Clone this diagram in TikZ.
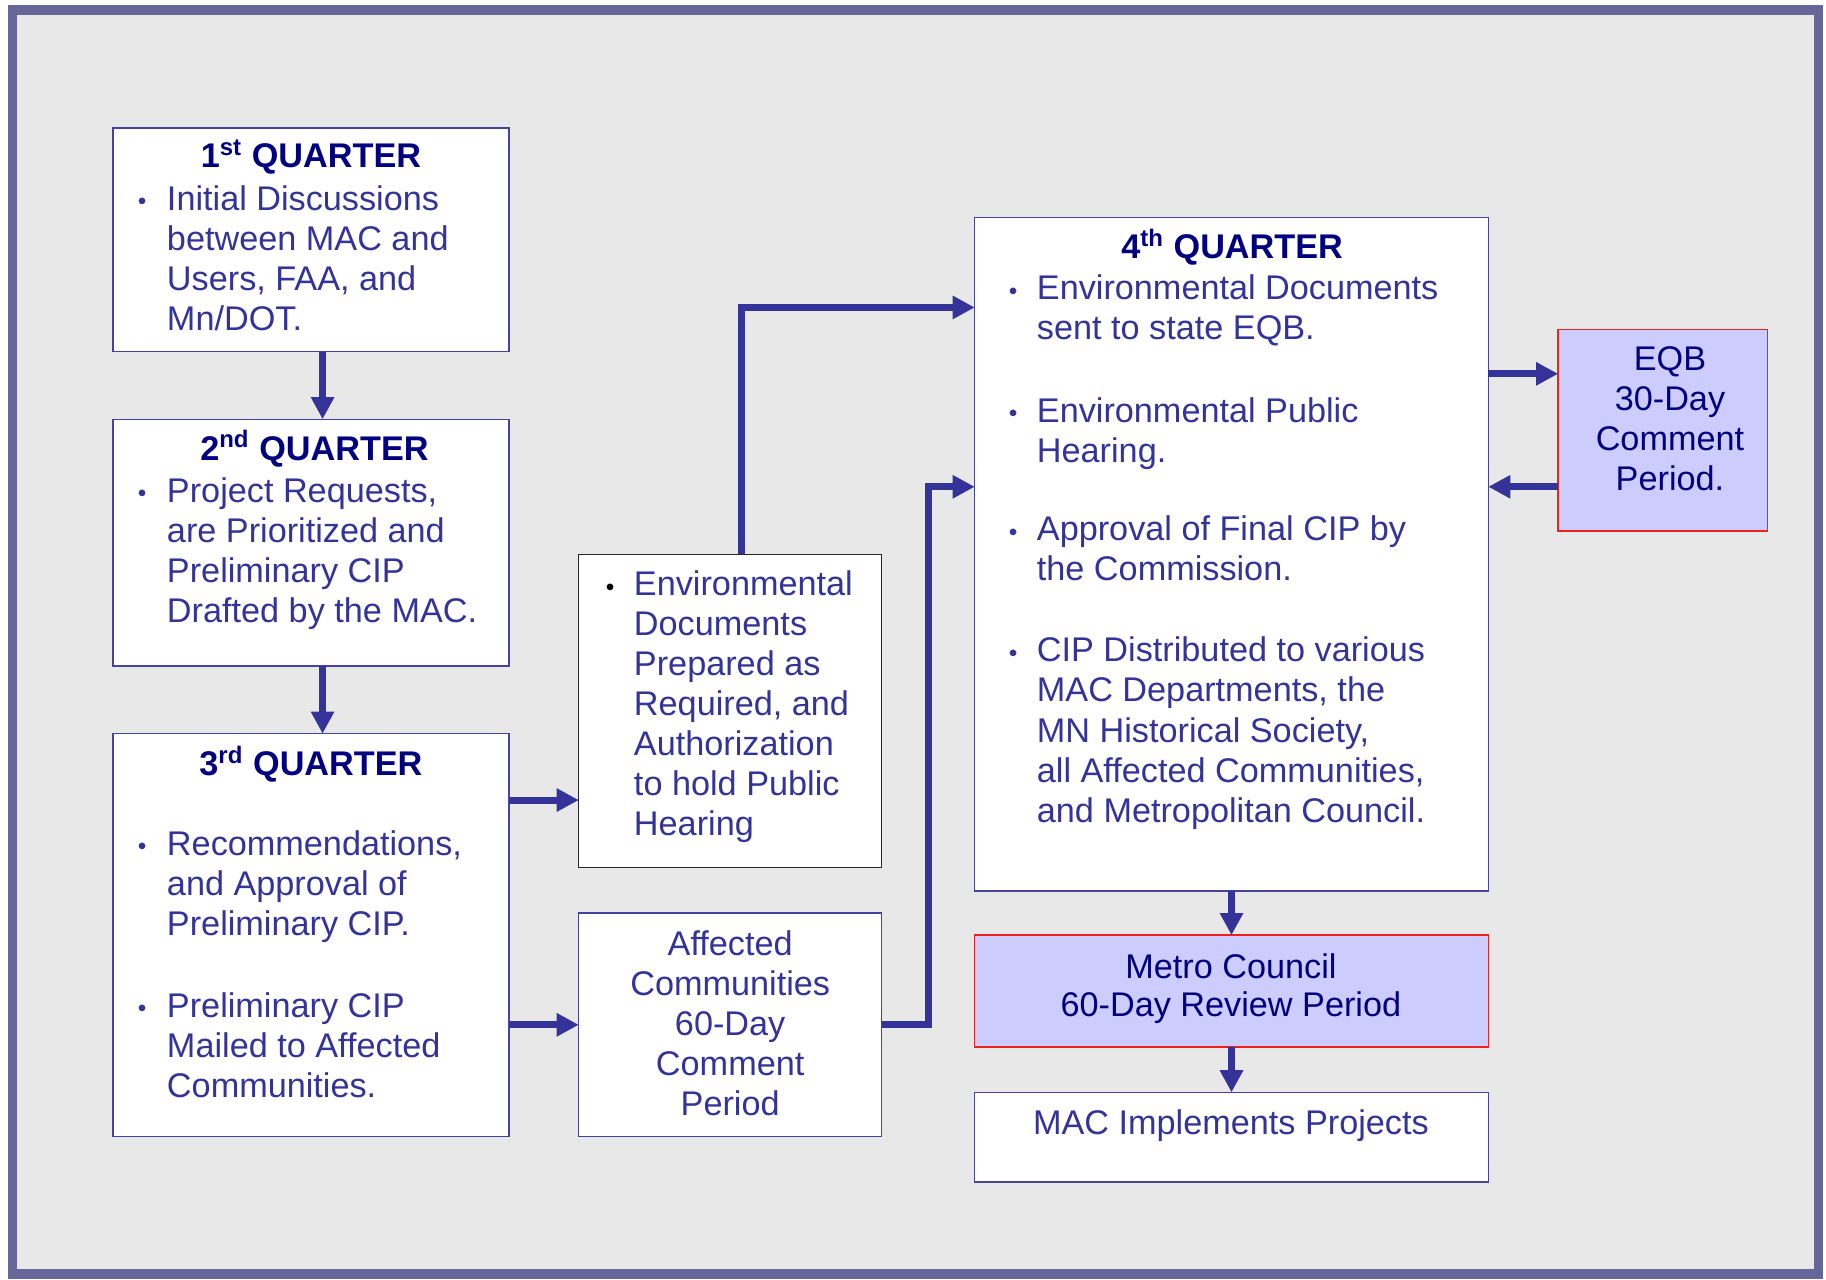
\documentclass[tikz,border=0pt]{standalone}
\usepackage{fontspec}
\setmainfont{Liberation Sans}
\usetikzlibrary{arrows.meta}
\definecolor{frameC}{HTML}{666699}
\definecolor{bgC}{HTML}{E8E8E8}
\definecolor{txtC}{HTML}{333399}
\definecolor{ttlC}{HTML}{000080}
\definecolor{boxC}{HTML}{4444A0}
\definecolor{hiC}{HTML}{CCCCFF}
\definecolor{redC}{HTML}{EE2020}
\definecolor{arrC}{HTML}{333399}
\tikzset{
  box/.style={draw=boxC, line width=0.6pt, fill=white, rectangle, inner sep=0pt, outer sep=0pt},
  envbox/.style={box, draw=black!85},
  hibox/.style={box, draw=redC, fill=hiC},
  tx/.style={text=txtC, font=\fontsize{14.7}{17.2}\selectfont, inner sep=0pt, align=left},
  txc/.style={tx, align=center},
  ttl/.style={text=ttlC, font=\bfseries\fontsize{14.7}{17.2}\selectfont, inner sep=0pt},
  bul/.style={text=txtC, font=\fontsize{10.5}{10.5}\selectfont, inner sep=0pt, anchor=base},
  arr/.style={draw=arrC, line width=3pt, -{Triangle[length=9.5pt,width=9.5pt]}},
}
\begin{document}
\begin{tikzpicture}[x=0.5pt,y=-0.5pt]
\useasboundingbox (0,0) rectangle (1568,1098.3);
\fill[white] (0,0) rectangle (1568,1098.3);
\draw[line width=4.25pt, draw=frameC, fill=bgC] (10.7,8.6) rectangle (1561.5,1094);

% boxes
\node[box, minimum width=170pt, minimum height=96pt] (q1) at (267,206) {};
\node[box, minimum width=170pt, minimum height=106pt] (q2) at (267,466) {};
\node[box, minimum width=170pt, minimum height=173pt] (q3) at (267,803) {};
\node[envbox, minimum width=130pt, minimum height=134.5pt] (env) at (627,610.5) {};
\node[box, minimum width=130pt, minimum height=96pt] (aff) at (627,880) {};
\node[box, minimum width=220.5pt, minimum height=289pt] (q4) at (1057.5,476) {};
\node[hibox, minimum width=90pt, minimum height=86.5pt] (eqb) at (1428,369.5) {};
\node[hibox, minimum width=220.5pt, minimum height=48pt] (metro) at (1057.5,851) {};
\node[box, minimum width=220.5pt, minimum height=38.5pt] (mac) at (1057.5,976.5) {};

% Q1
\node[ttl, anchor=base] (q1t) at (267,144) {1\textsuperscript{st} QUARTER};
\node[bul] (q1b) at (122,180) {•};
\node[tx, anchor=north west] (q1x) at (143,155.9) {\strut Initial Discussions\\between MAC and\\Users, FAA, and\\Mn/DOT.};

% Q2
\node[ttl, anchor=base] (q2t) at (270,395) {2\textsuperscript{nd} QUARTER};
\node[bul] (q2b) at (122,431) {•};
\node[tx, anchor=north west] (q2x) at (143,406.9) {\strut Project Requests,\\are Prioritized and\\Preliminary CIP\\Drafted by the MAC.};

% Q3
\node[ttl, anchor=base] (q3t) at (267,666) {3\textsuperscript{rd} QUARTER};
\node[bul] (q3b1) at (122,734) {•};
\node[tx, anchor=north west] (q3x1) at (143,709.9) {\strut Recommendations,\\and Approval of\\Preliminary CIP.};
\node[bul] (q3b2) at (122,873) {•};
\node[tx, anchor=north west] (q3x2) at (143,848.9) {\strut Preliminary CIP\\Mailed to Affected\\Communities.};

% Environmental documents
\node[bul, text=black] (envb) at (524,511) {•};
\node[tx, anchor=north west] (envx) at (544,486.9) {\strut Environmental\\Documents\\Prepared as\\Required, and\\Authorization\\to hold Public\\Hearing};

% Affected communities
\node[txc, anchor=north] (affx) at (627,795.9) {\strut Affected\\Communities\\60-Day\\Comment\\Period};

% Q4
\node[ttl, anchor=base] (q4t) at (1058,222) {4\textsuperscript{th} QUARTER};
\node[bul] (q4b1) at (870,257) {•};
\node[tx, anchor=north west] (q4x1) at (890,232.9) {\strut Environmental Documents\\sent to state EQB.};
\node[bul] (q4b2) at (870,362) {•};
\node[tx, anchor=north west] (q4x2) at (890,337.9) {\strut Environmental Public\\Hearing.};
\node[bul] (q4b3) at (870,464) {•};
\node[tx, anchor=north west] (q4x3) at (890,439.9) {\strut Approval of Final CIP by\\the Commission.};
\node[bul] (q4b4) at (870,568) {•};
\node[tx, anchor=north west] (q4x4) at (890,543.9) {\strut CIP Distributed to various\\MAC Departments, the\\MN Historical Society,\\all Affected Communities,\\and Metropolitan Council.};

% EQB
\node[txc, text=ttlC, anchor=north] (eqbx) at (1434,293.9) {\strut EQB\\30-Day\\Comment\\Period.};

% Metro
\node[txc, text=ttlC, anchor=north, font=\fontsize{14.7}{16.5}\selectfont] (metrox) at (1057,816.5) {\strut Metro Council\\60-Day Review Period};

% MAC
\node[tx, anchor=base] (macx) at (1057,974) {MAC Implements Projects};

% helper coordinates
\coordinate (y687) at (0,687);
\coordinate (y264) at (0,264);
\coordinate (y321) at (0,321);
\coordinate (y418) at (0,418);
\coordinate (k1) at (797,880);
\coordinate (k2) at (797,418);

% connectors
\draw[arr] ([xshift=5pt]q1.south) -- ([xshift=5pt]q2.north);
\draw[arr] ([xshift=5pt]q2.south) -- ([xshift=5pt]q3.north);
\draw[arr] (q3.east |- y687) -- (env.west |- y687);
\draw[arr] (q3.east |- aff.west) -- (aff.west);
\draw[arr] ([xshift=5pt]env.north) |- (q4.west |- y264);
\draw[arr] (aff.east) -- (k1) -- (k2) -- (q4.west |- k2);
\draw[arr] (q4.east |- y321) -- (eqb.west |- y321);
\draw[arr] (eqb.west |- y418) -- (q4.east |- y418);
\draw[arr] (q4.south) -- (metro.north);
\draw[arr] (metro.south) -- (mac.north);
\end{tikzpicture}
\end{document}
